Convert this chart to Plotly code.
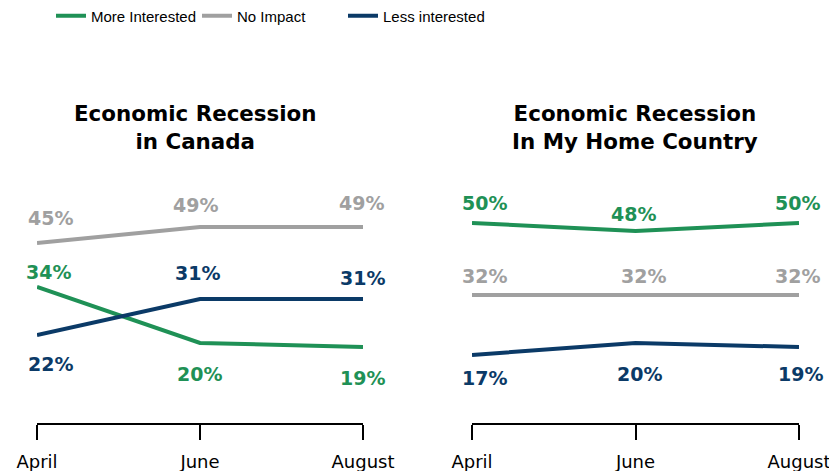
import plotly.graph_objects as go

months = ["April", "June", "August"]
series_names = ["More Interested", "No Impact", "Less interested"]

canada_more = [34, 20, 19]
canada_none = [45, 49, 49]
canada_less = [22, 31, 31]

home_more = [50, 48, 50]
home_none = [32, 32, 32]
home_less = [17, 20, 19]

panel_titles = ["Economic Recession<br>in Canada", "Economic Recession<br>In My Home Country"]

colors = {"More Interested": "#1f9156", "No Impact": "#a0a0a0", "Less interested": "#0b3a67"}

# label offsets in px (style only): (dx list, dy list)
label_off = {
    ("x", "More Interested"): ([11, -1, -1], [15, -31, -31]),
    ("x", "No Impact"): ([13, -5, -2], [25, 22, 24]),
    ("x", "Less interested"): ([13, -3, -1], [-29, 26, 21]),
    ("x2", "More Interested"): ([12, -2, -2], [20, 17, 20]),
    ("x2", "No Impact"): ([12, 8, -2], [19, 19, 19]),
    ("x2", "Less interested"): ([12, 4, 1], [-23, -31, -27]),
}

FONT = "DejaVu Sans, Verdana, sans-serif"
W, H = 829, 463  # page body has an 8px margin inside the 837x471 window

fig = go.Figure()
panels = [("x", "y", [canada_more, canada_none, canada_less]),
          ("x2", "y2", [home_more, home_none, home_less])]

annotations = []
for pi, (xa, ya, vals) in enumerate(panels):
    for name, v in zip(series_names, vals):
        fig.add_trace(go.Scatter(
            x=months, y=v, mode="lines", name=name,
            line=dict(color=colors[name], width=4),
            xaxis=xa, yaxis=ya, showlegend=(pi == 0), cliponaxis=False,
        ))
        dxs, dys = label_off[(xa, name)]
        for i, (m, val) in enumerate(zip(months, v)):
            annotations.append(dict(
                x=m, y=val, xref=xa, yref=ya, text=f"{val}%", showarrow=False,
                yshift=dys[i], xshift=dxs[i],
                font=dict(family=FONT, size=19, color=colors[name], weight="bold"),
            ))

title_x = [187 / W, 627 / W]
for tx, t in zip(title_x, panel_titles):
    annotations.append(dict(
        x=tx, y=(415 - 120) / 240, xref="paper", yref="paper", text=t, showarrow=False,
        xanchor="center", yanchor="middle",
        font=dict(family=FONT, size=21.4, color="black", weight="bold"),
    ))

xaxis_style = dict(
    type="category", categoryorder="array", categoryarray=months, range=[0, 2],
    showline=True, linecolor="black", linewidth=2,
    ticks="outside", ticklen=15, tickwidth=2, tickcolor="black",
    showgrid=False, zeroline=False, fixedrange=True, automargin=False,
    tickfont=dict(family=FONT, size=18, color="black"),
    ticklabelstandoff=6,
)
yaxis_style = dict(range=[0, 60], visible=False, showgrid=False, zeroline=False, automargin=False)

fig.update_layout(
    width=W, height=H, autosize=False,
    margin=dict(l=0, r=0, t=175, b=48, pad=0, autoexpand=False),
    paper_bgcolor="white", plot_bgcolor="white",
    xaxis=dict(domain=[29 / W, 355 / W], **xaxis_style),
    xaxis2=dict(domain=[464 / W, 791 / W], **xaxis_style),
    yaxis=dict(**yaxis_style),
    yaxis2=dict(anchor="x2", **yaxis_style),
    showlegend=True,
    legend=dict(
        orientation="h", x=43 / W, xanchor="left", y=(415 - 8) / 240, yanchor="middle",
        yref="paper",
        font=dict(family="Liberation Sans Narrow, Liberation Sans, sans-serif", size=15, color="black"),
        bgcolor="rgba(0,0,0,0)", itemwidth=30, traceorder="normal", entrywidth=101,
    ),
    annotations=annotations,
)

fig.write_html("out.html")
